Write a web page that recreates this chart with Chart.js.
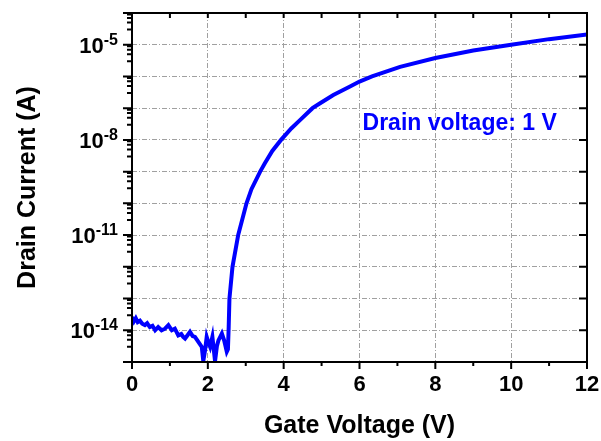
<!DOCTYPE html>
<html>
<head>
    <title>Transfer Curve</title>
    <script src="https://cdn.jsdelivr.net/npm/chart.js@4.4.1/dist/chart.umd.min.js"></script>
    <style>
        body {
            margin: 0;
            padding: 0;
            background-color: #ffffff;
        }
        .chart-container {
            width: 601px;
            height: 441px;
        }
    </style>
</head>
<body>
    <div class="chart-container">
        <canvas id="transferChart"></canvas>
    </div>

    <script>
        // Gate voltage (V) and drain current (A)
        const gateVoltage = [
            0.00, 0.05, 0.10, 0.15, 0.21, 0.27, 0.34, 0.40, 0.47, 0.54,
            0.61, 0.69, 0.78, 0.87, 0.96, 1.05, 1.13, 1.22, 1.30, 1.35,
            1.40, 1.47, 1.53, 1.60, 1.66, 1.75, 1.84, 1.88, 1.93, 1.97,
            2.02, 2.06, 2.12, 2.19, 2.24, 2.28, 2.33, 2.37, 2.43, 2.50,
            2.53, 2.55, 2.57, 2.65, 2.80, 3.02, 3.15, 3.38, 3.50, 3.70,
            3.93, 4.20, 4.43, 4.76, 4.95, 5.31, 5.75, 6.00, 6.33, 7.07,
            8.00, 9.00, 10.00, 11.00, 12.00
        ];
        const drainCurrent = [
            2.6e-14, 1.9e-14, 2.4e-14, 1.8e-14, 2.0e-14, 1.6e-14, 1.45e-14, 1.66e-14, 1.26e-14, 1.38e-14,
            1.0e-14, 1.26e-14, 1.0e-14, 1.12e-14, 1.45e-14, 1.0e-14, 1.12e-14, 6.9e-15, 7.6e-15, 6.2e-15,
            5.5e-15, 7.1e-15, 8.9e-15, 6.6e-15, 6.2e-15, 4.3e-15, 3.0e-15, 1.07e-15, 2.5e-15, 6.2e-15,
            4.0e-15, 3.0e-15, 6.2e-15, 1.07e-15, 3.2e-15, 4.8e-15, 6.3e-15, 7.9e-15, 4.8e-15, 2.1e-15,
            2.5e-15, 1.26e-14, 1.0e-13, 1.0e-12, 1.0e-11, 1.0e-10, 2.8e-10, 1.0e-9, 1.8e-9, 4.5e-9,
            1.0e-8, 2.3e-8, 4.2e-8, 1.0e-7, 1.4e-7, 2.6e-7, 4.8e-7, 6.9e-7, 1.0e-6, 2.0e-6,
            3.8e-6, 6.6e-6, 1.0e-5, 1.5e-5, 2.1e-5
        ];

        // Axis settings
        const xMin = 0, xMax = 12, xStep = 2;
        const yMinExp = -15, yMaxExp = -4;
        const yLabelExps = [-14, -11, -8, -5];
        const yMinorSteps = [3, 5, 7, 9];
        const noteText = 'Drain voltage: 1 V';
        const notePos = { x: 6.08, y: 2.1e-8 };

        const fontFamily = '"Liberation Sans", Arial, sans-serif';

        // Frame, tick marks, y labels with exponents and the note
        const framePlugin = {
            id: 'frame',
            afterDatasetsDraw(chart) {
                const { ctx, chartArea: a, scales: { x, y } } = chart;
                ctx.save();
                ctx.strokeStyle = '#000';
                ctx.lineWidth = 2;
                ctx.strokeRect(a.left, a.top, a.right - a.left, a.bottom - a.top);

                ctx.beginPath();
                for (let v = xMin; v <= xMax; v++) {
                    const px = x.getPixelForValue(v);
                    const len = v % xStep === 0 ? 7 : 4;
                    ctx.moveTo(px, a.bottom);
                    ctx.lineTo(px, a.bottom + len);
                    if (v > xMin && v < xMax) {
                        ctx.moveTo(px, a.top);
                        ctx.lineTo(px, a.top + 5);
                    }
                }
                for (let e = yMinExp; e <= yMaxExp; e++) {
                    const py = y.getPixelForValue(Math.pow(10, e));
                    ctx.moveTo(a.left - 9, py);
                    ctx.lineTo(a.left, py);
                    ctx.moveTo(a.right - 8, py);
                    ctx.lineTo(a.right, py);
                    if (e < yMaxExp) {
                        yMinorSteps.forEach(m => {
                            const pm = y.getPixelForValue(m * Math.pow(10, e));
                            ctx.moveTo(a.left - 5, pm);
                            ctx.lineTo(a.left, pm);
                        });
                    }
                }
                ctx.stroke();

                // y tick labels: 10 with a raised exponent
                ctx.fillStyle = '#000';
                ctx.textBaseline = 'alphabetic';
                ctx.textAlign = 'left';
                const right = a.left - 14;
                yLabelExps.forEach(e => {
                    const py = y.getPixelForValue(Math.pow(10, e));
                    const expText = String(e);
                    ctx.font = 'bold 16px ' + fontFamily;
                    const ew = ctx.measureText(expText).width;
                    ctx.font = 'bold 22px ' + fontFamily;
                    const bw = ctx.measureText('10').width;
                    ctx.fillText('10', right - ew - bw, py + 8);
                    ctx.font = 'bold 16px ' + fontFamily;
                    ctx.fillText(expText, right - ew, py);
                });

                // note
                ctx.fillStyle = '#0000ff';
                ctx.font = 'bold 23px ' + fontFamily;
                ctx.fillText(noteText, x.getPixelForValue(notePos.x), y.getPixelForValue(notePos.y));
                ctx.restore();
            }
        };

        const ctx = document.getElementById('transferChart').getContext('2d');
        const transferChart = new Chart(ctx, {
            type: 'line',
            data: {
                datasets: [
                    {
                        label: 'Drain Current',
                        data: gateVoltage.map((v, i) => ({ x: v, y: drainCurrent[i] })),
                        borderColor: '#0000ff',
                        borderWidth: 4,
                        pointRadius: 0,
                        tension: 0,
                        fill: false
                    }
                ]
            },
            options: {
                responsive: true,
                maintainAspectRatio: false,
                animation: false,
                layout: {
                    padding: { top: 13, right: 14, left: 0, bottom: 0 }
                },
                plugins: {
                    legend: { display: false },
                    tooltip: { enabled: false }
                },
                scales: {
                    x: {
                        type: 'linear',
                        min: xMin,
                        max: xMax,
                        afterFit: s => {
                            s.height = 79;
                            s.paddingLeft = 0;
                            s.paddingRight = 0;
                        },
                        ticks: {
                            stepSize: xStep,
                            padding: 10,
                            color: '#000',
                            font: { family: fontFamily, size: 22, weight: 'bold' }
                        },
                        grid: {
                            color: '#a0a0a0',
                            lineWidth: 1,
                            drawTicks: false
                        },
                        border: { display: false, dash: [5, 2, 1, 2] },
                        title: {
                            display: true,
                            text: 'Gate Voltage (V)',
                            color: '#000',
                            padding: { top: 0, bottom: 0 },
                            font: { family: fontFamily, size: 25, weight: 'bold' }
                        }
                    },
                    y: {
                        type: 'logarithmic',
                        min: Math.pow(10, yMinExp),
                        max: Math.pow(10, yMaxExp),
                        afterFit: s => {
                            s.width = 132;
                            s.paddingTop = 0;
                            s.paddingBottom = 0;
                        },
                        afterBuildTicks: s => {
                            const ticks = [];
                            for (let e = yMinExp; e <= yMaxExp; e++) ticks.push({ value: Math.pow(10, e) });
                            s.ticks = ticks;
                        },
                        ticks: { display: false },
                        grid: {
                            color: '#a0a0a0',
                            lineWidth: 1,
                            drawTicks: false
                        },
                        border: { display: false, dash: [5, 2, 1, 2] },
                        title: {
                            display: true,
                            text: 'Drain Current (A)',
                            color: '#000',
                            padding: { top: 13, bottom: 0 },
                            font: { family: fontFamily, size: 25, weight: 'bold' }
                        }
                    }
                }
            },
            plugins: [framePlugin]
        });
    </script>
</body>
</html>
